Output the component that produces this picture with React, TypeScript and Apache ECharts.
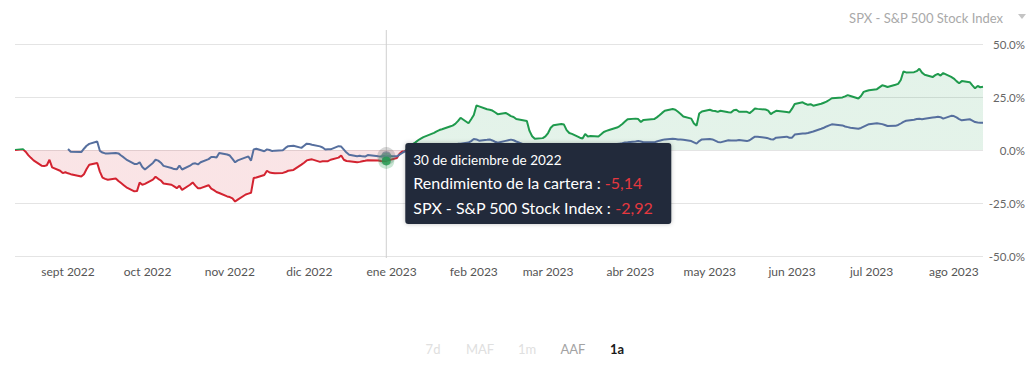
import React, { useEffect, useRef } from 'react';
import * as echarts from 'echarts';

const dates: string[] = [
  '2022-08-12','2022-08-15','2022-08-16','2022-08-17','2022-08-18','2022-08-19','2022-08-22','2022-08-23','2022-08-24','2022-08-25','2022-08-26','2022-08-29','2022-08-30','2022-08-31',
  '2022-09-01','2022-09-02','2022-09-06','2022-09-07','2022-09-08','2022-09-09','2022-09-12','2022-09-13','2022-09-14','2022-09-15','2022-09-16','2022-09-19','2022-09-20','2022-09-21','2022-09-22','2022-09-23','2022-09-26','2022-09-27','2022-09-28','2022-09-29','2022-09-30',
  '2022-10-03','2022-10-04','2022-10-05','2022-10-06','2022-10-07','2022-10-10','2022-10-11','2022-10-12','2022-10-13','2022-10-14','2022-10-17','2022-10-18','2022-10-19','2022-10-20','2022-10-21','2022-10-24','2022-10-25','2022-10-26','2022-10-27','2022-10-28','2022-10-31',
  '2022-11-01','2022-11-02','2022-11-03','2022-11-04','2022-11-07','2022-11-08','2022-11-09','2022-11-10','2022-11-11','2022-11-14','2022-11-15','2022-11-16','2022-11-17','2022-11-18','2022-11-21','2022-11-22','2022-11-23','2022-11-25','2022-11-28','2022-11-29','2022-11-30',
  '2022-12-01','2022-12-02','2022-12-05','2022-12-06','2022-12-07','2022-12-08','2022-12-09','2022-12-12','2022-12-13','2022-12-14','2022-12-15','2022-12-16','2022-12-19','2022-12-20','2022-12-21','2022-12-22','2022-12-23','2022-12-27','2022-12-28','2022-12-29','2022-12-30',
  '2023-01-03','2023-01-04','2023-01-05','2023-01-06','2023-01-09','2023-01-10','2023-01-11','2023-01-12','2023-01-13','2023-01-17','2023-01-18','2023-01-19','2023-01-20','2023-01-23','2023-01-24','2023-01-25','2023-01-26','2023-01-27','2023-01-30','2023-01-31',
  '2023-02-01','2023-02-02','2023-02-03','2023-02-06','2023-02-07','2023-02-08','2023-02-09','2023-02-10','2023-02-13','2023-02-14','2023-02-15','2023-02-16','2023-02-17','2023-02-21','2023-02-22','2023-02-23','2023-02-24','2023-02-27','2023-02-28',
  '2023-03-01','2023-03-02','2023-03-03','2023-03-06','2023-03-07','2023-03-08','2023-03-09','2023-03-10','2023-03-13','2023-03-14','2023-03-15','2023-03-16','2023-03-17','2023-03-20','2023-03-21','2023-03-22','2023-03-23','2023-03-24','2023-03-27','2023-03-28','2023-03-29','2023-03-30','2023-03-31',
  '2023-04-03','2023-04-04','2023-04-05','2023-04-06','2023-04-10','2023-04-11','2023-04-12','2023-04-13','2023-04-14','2023-04-17','2023-04-18','2023-04-19','2023-04-20','2023-04-21','2023-04-24','2023-04-25','2023-04-26','2023-04-27','2023-04-28',
  '2023-05-01','2023-05-02','2023-05-03','2023-05-04','2023-05-05','2023-05-08','2023-05-09','2023-05-10','2023-05-11','2023-05-12','2023-05-15','2023-05-16','2023-05-17','2023-05-18','2023-05-19','2023-05-22','2023-05-23','2023-05-24','2023-05-25','2023-05-26','2023-05-30','2023-05-31',
  '2023-06-01','2023-06-02','2023-06-05','2023-06-06','2023-06-07','2023-06-08','2023-06-09','2023-06-12','2023-06-13','2023-06-14','2023-06-15','2023-06-16','2023-06-20','2023-06-21','2023-06-22','2023-06-23','2023-06-26','2023-06-27','2023-06-28','2023-06-29','2023-06-30',
  '2023-07-03','2023-07-05','2023-07-06','2023-07-07','2023-07-10','2023-07-11','2023-07-12','2023-07-13','2023-07-14','2023-07-17','2023-07-18','2023-07-19','2023-07-20','2023-07-21','2023-07-24','2023-07-25','2023-07-26','2023-07-27','2023-07-28','2023-07-31',
  '2023-08-01','2023-08-02','2023-08-03','2023-08-04','2023-08-07','2023-08-08','2023-08-09','2023-08-10','2023-08-11','2023-08-12'
];

// Rendimiento de la cartera (%)
const portfolio: number[] = [
  0.0, 0.3, -0.8, -2.4, -3.7, -4.9, -7.4, -7.6, -7.2, -4.6, -8.2, -9.8, -10.9, -10.5,
  -11.0, -11.4, -12.5, -11.4, -9.0, -7.0, -6.1, -10.2, -13.0, -13.6, -14.0, -13.4, -14.6, -15.6, -16.6, -17.6, -19.5, -19.4, -15.4, -16.4, -16.0,
  -14.0, -12.6, -13.6, -14.4, -15.8, -16.4, -17.2, -18.0, -16.9, -18.8, -16.4, -15.3, -16.8, -18.0, -18.0, -16.6, -18.2, -18.9, -19.8, -20.3, -21.9,
  -22.2, -22.8, -24.3, -23.4, -21.0, -20.6, -20.2, -13.2, -13.0, -11.8, -9.8, -10.6, -10.8, -11.0, -10.8, -10.4, -9.8, -9.4, -6.9, -6.0, -4.9,
  -4.6, -4.4, -5.6, -5.3, -5.3, -5.3, -4.6, -3.6, -2.6, -4.6, -5.2, -5.3, -5.8, -5.6, -5.3, -5.1, -4.8, -5.0, -5.2, -5.3, -5.14,
  -3.8, -1.8, -0.7, -0.6, 2.8, 3.6, 4.6, 5.4, 6.1, 8.1, 8.8, 9.4, 9.8, 11.1, 11.5, 12.3, 13.6, 15.2, 12.6, 14.5,
  16.5, 21.0, 20.6, 19.2, 19.0, 18.6, 17.8, 16.9, 17.5, 16.8, 16.0, 15.6, 14.6, 13.7, 9.0, 6.5, 5.3, 5.6, 6.4,
  8.0, 10.5, 11.7, 12.3, 12.0, 9.4, 8.0, 7.6, 5.8, 5.4, 7.6, 6.4, 6.6, 6.4, 7.4, 8.5, 9.0, 9.4, 10.6, 11.3, 12.3, 13.4, 14.5,
  14.8, 14.6, 13.2, 14.2, 14.6, 15.4, 16.4, 17.5, 18.5, 19.3, 19.0, 18.0, 17.0, 15.8, 14.8, 12.5, 11.5, 17.2, 18.2,
  19.0, 18.5, 18.4, 18.0, 18.5, 17.8, 17.7, 18.8, 19.0, 18.0, 18.0, 17.4, 18.4, 19.6, 19.4, 19.1, 18.6, 16.9, 17.8, 18.5, 17.9, 17.7,
  19.5, 21.7, 22.5, 21.8, 21.3, 21.6, 20.9, 21.8, 22.3, 22.8, 23.6, 24.4, 24.8, 25.3, 25.9, 25.5, 24.3, 25.5, 27.4, 27.8, 28.2,
  28.7, 30.5, 30.2, 29.7, 30.8, 31.2, 33.0, 37.0, 36.6, 36.7, 37.2, 38.3, 36.5, 35.5, 34.4, 35.3, 35.9, 35.1, 36.3, 34.5,
  33.7, 32.5, 31.5, 32.5, 32.0, 30.5, 29.1, 30.2, 29.6, 29.8
];

// SPX - S&P 500 Stock Index (%)
const spx: (number | null)[] = [
  null, null, null, null, null, null, null, null, null, null, null, null, null, null,
  0.5, -0.8, -1.0, 0.6, 2.0, 2.9, 4.0, -0.4, -1.2, -1.6, -1.6, -1.4, -1.6, -2.6, -3.5, -4.5, -6.6, -6.6, -5.8, -8.0, -9.2,
  -6.1, -4.6, -5.0, -6.0, -7.5, -8.5, -9.0, -9.1, -7.4, -9.2, -7.4, -6.5, -6.3, -6.8, -5.8, -4.3, -3.3, -3.3, -3.5, -1.4, -2.1,
  -2.6, -4.2, -5.8, -4.9, -3.5, -3.1, -5.0, 0.3, 0.6, -0.6, 0.3, 0.0, -0.5, -0.3, -0.1, 1.0, 1.8, 2.0, 1.0, 2.0, 3.0,
  2.8, 2.5, 1.7, 1.2, 0.2, 0.4, 0.3, 1.8, 1.6, 0.2, -1.2, -2.2, -2.9, -2.7, -3.0, -3.1, -2.4, -3.0, -3.1, -2.8, -2.92,
  -3.0, -2.2, -1.4, -0.7, 0.3, 0.6, 1.2, 1.5, 1.7, 1.9, 2.0, 1.8, 2.2, 2.5, 2.6, 2.6, 2.9, 3.0, 3.5, 4.2,
  5.2, 5.0, 4.4, 4.8, 5.0, 4.5, 3.9, 3.4, 4.3, 4.6, 4.9, 4.6, 4.0, 2.0, 1.5, 1.2, 0.5, 0.9, 1.0,
  1.2, 1.8, 2.6, 2.5, 2.0, 1.8, 1.2, 0.8, 0.5, 0.8, 1.0, 1.2, 1.0, 1.5, 1.9, 2.2, 2.4, 2.5, 2.8, 3.0, 3.2, 3.5, 3.6,
  4.0, 4.2, 4.0, 3.7, 3.6, 4.0, 4.4, 4.7, 5.0, 5.3, 5.2, 5.0, 4.9, 4.8, 4.2, 3.6, 3.0, 4.2, 5.0,
  5.2, 5.0, 4.4, 3.8, 3.6, 4.6, 4.5, 4.5, 4.5, 4.7, 4.2, 4.6, 5.5, 6.3, 6.2, 5.8, 5.5, 5.1, 5.0, 5.8, 6.3, 5.8,
  5.8, 7.3, 7.8, 7.8, 8.0, 8.4, 8.7, 10.0, 10.5, 11.1, 11.6, 12.1, 11.6, 11.1, 10.8, 10.5, 10.0, 10.4, 11.0, 11.6, 12.2,
  12.6, 12.2, 11.8, 11.3, 11.4, 11.8, 12.5, 13.3, 13.8, 14.3, 14.6, 14.7, 14.5, 14.7, 15.3, 15.5, 15.7, 15.5, 14.8, 16.1,
  16.0, 15.4, 14.6, 14.0, 14.5, 13.9, 13.2, 13.0, 12.9, 12.9
];

const yMin = -50;
const yMax = 50;
const yStep = 25;
const xStart = '2022-08-12';
const xEnd = '2023-08-12';

const monthShort = ['ene', 'feb', 'mar', 'abr', 'may', 'jun', 'jul', 'ago', 'sept', 'oct', 'nov', 'dic'];
const monthLong = ['enero', 'febrero', 'marzo', 'abril', 'mayo', 'junio', 'julio', 'agosto', 'septiembre', 'octubre', 'noviembre', 'diciembre'];

const portfolioName = 'Rendimiento de la cartera';
const benchmarkName = 'SPX - S&P 500 Stock Index';
const tooltipDate = '2022-12-30';
const rangeButtons = ['7d', 'MAF', '1m', 'AAF', '1a'];
const activeRange = '1a';

const FONT = 'Lato, "Open Sans", sans-serif';
const GREEN = '#1f9a4d';
const RED = '#d32330';
const BLUE = '#566f9e';

// Every calendar day of the axis range (category axis keeps calendar spacing)
function buildCalendar(start: string, end: string): string[] {
  const [sy, sm, sd] = start.split('-').map(Number);
  const [ey, em, ed] = end.split('-').map(Number);
  const out: string[] = [];
  let t = Date.UTC(sy, sm - 1, sd);
  const tEnd = Date.UTC(ey, em - 1, ed);
  while (t <= tEnd) {
    const d = new Date(t);
    const mm = String(d.getUTCMonth() + 1).padStart(2, '0');
    const dd = String(d.getUTCDate()).padStart(2, '0');
    out.push(`${d.getUTCFullYear()}-${mm}-${dd}`);
    t += 86400000;
  }
  return out;
}

export default function App() {
  const ref = useRef<HTMLDivElement>(null);

  useEffect(() => {
    if (!ref.current) return;
    const chart = echarts.init(ref.current, null, { renderer: 'svg' });
    const W = 1020;
    const calendar = buildCalendar(xStart, xEnd);

    const tipIdx = dates.indexOf(tooltipDate);
    const tipP = portfolio[tipIdx];
    const tipS = spx[tipIdx] as number;
    const tipCat = calendar.indexOf(tooltipDate);

    chart.setOption({
      animation: false,
      textStyle: { fontFamily: FONT },
      grid: { left: 7, right: 45, top: 36, bottom: 105 },
      xAxis: {
        type: 'category',
        data: calendar,
        boundaryGap: false,
        axisLine: { show: false },
        axisTick: { show: false },
        splitLine: { show: false },
        axisLabel: {
          color: '#555',
          fontSize: 12,
          margin: 9,
          interval: (_i: number, v: string) => v.slice(8, 10) === '01',
          formatter: (v: string) => monthShort[Number(v.slice(5, 7)) - 1] + ' ' + v.slice(0, 4),
        },
      },
      yAxis: {
        type: 'value',
        position: 'right',
        min: yMin,
        max: yMax,
        interval: yStep,
        axisLine: { show: false },
        axisTick: { show: false },
        splitLine: { lineStyle: { color: '#e4e4e4', width: 1 } },
        axisLabel: {
          color: '#666',
          fontSize: 11.5,
          align: 'right',
          margin: 42,
          formatter: (v: number) => v.toFixed(1) + '%',
        },
      },
      visualMap: {
        show: false,
        type: 'piecewise',
        seriesIndex: 0,
        dimension: 1,
        pieces: [
          { gte: -1000, lte: 0, color: RED },
          { gt: 0, lte: 1000, color: GREEN },
        ],
      },
      series: [
        {
          name: portfolioName,
          type: 'line',
          data: dates.map((d, i) => [d, portfolio[i]]),
          showSymbol: false,
          lineStyle: { width: 2 },
          areaStyle: { opacity: 0.12 },
          z: 2,
        },
        {
          name: benchmarkName,
          type: 'line',
          data: dates.map((d, i) => [d, spx[i]]),
          showSymbol: false,
          connectNulls: false,
          color: BLUE,
          lineStyle: { width: 2, color: BLUE },
          z: 3,
        },
        {
          type: 'scatter',
          data: [[tooltipDate, tipS]],
          symbolSize: 10,
          itemStyle: { color: '#7b879c', borderColor: 'rgba(110,110,110,0.35)', borderWidth: 8 },
          z: 5,
        },
        {
          type: 'scatter',
          data: [[tooltipDate, tipP]],
          symbolSize: 9,
          itemStyle: { color: GREEN, borderColor: 'rgba(31,154,77,0.3)', borderWidth: 7 },
          z: 6,
        },
      ],
    });

    const toPx = (v: number) => chart.convertToPixel({ gridIndex: 0 }, [tipCat, v]) as number[];
    const px = toPx(0)[0];
    const gridTop = toPx(yMax)[1];
    const gridBottom = toPx(yMin)[1];
    const pyP = toPx(tipP)[1];

    const [ty, tm, tdd] = tooltipDate.split('-').map(Number);
    const dateLabel = `${tdd} de ${monthLong[tm - 1]} de ${ty}`;
    const fmt = (v: number) => v.toFixed(2).replace('.', ',');

    const boxX = px + 19;
    const boxY = pyP - 18;
    const boxW = 266;
    const boxH = 81;

    const btnX = [425, 472, 519, 565, 609];
    const btnColor = (b: string, i: number) =>
      b === activeRange ? '#1a1a1a' : i === 3 ? '#a3a3a3' : '#e0e0e0';

    chart.setOption({
      graphic: [
        {
          type: 'line',
          z: 1,
          shape: { x1: px, y1: gridTop - 14, x2: px, y2: gridBottom + 2 },
          style: { stroke: '#cfcfcf', lineWidth: 1 },
          silent: true,
        },
        {
          type: 'rect',
          z: 100,
          shape: { x: boxX, y: boxY, width: boxW, height: boxH, r: 3 },
          style: { fill: '#202a3a', shadowBlur: 4, shadowColor: 'rgba(0,0,0,0.25)' },
        },
        {
          type: 'text',
          z: 101,
          x: boxX + 8,
          y: boxY + 17,
          style: {
            text: dateLabel,
            fill: '#ffffff',
            fontSize: 13.5,
            fontFamily: FONT,
            verticalAlign: 'middle',
          },
        },
        {
          type: 'text',
          z: 101,
          x: boxX + 8,
          y: boxY + 27,
          style: {
            text: `{l|${portfolioName} : }{v|${fmt(tipP)}}\n{l|${benchmarkName} : }{v|${fmt(tipS)}}`,
            verticalAlign: 'top',
            rich: {
              l: { fill: '#ffffff', fontSize: 16, lineHeight: 25, fontFamily: FONT },
              v: { fill: '#e5383f', fontSize: 16, lineHeight: 25, fontFamily: FONT },
            },
          },
        },
        {
          type: 'text',
          x: 995,
          y: 10,
          style: {
            text: benchmarkName,
            fill: '#a9a9a9',
            fontSize: 13,
            fontFamily: FONT,
            align: 'right',
            verticalAlign: 'middle',
          },
        },
        {
          type: 'polygon',
          shape: { points: [[W - 10, 6], [W - 2, 6], [W - 6, 11]] },
          style: { fill: '#c4c4c4' },
        },
        ...rangeButtons.map((b, i) => ({
          type: 'text',
          x: btnX[i],
          y: 341,
          style: {
            text: b,
            fill: btnColor(b, i),
            fontSize: 13,
            fontWeight: b === activeRange ? 'bold' : 'normal',
            fontFamily: FONT,
            align: 'center',
            verticalAlign: 'middle',
          },
        })),
      ],
    });

    return () => chart.dispose();
  }, []);

  return <div ref={ref} style={{ width: 1020, height: 353 }} />;
}
